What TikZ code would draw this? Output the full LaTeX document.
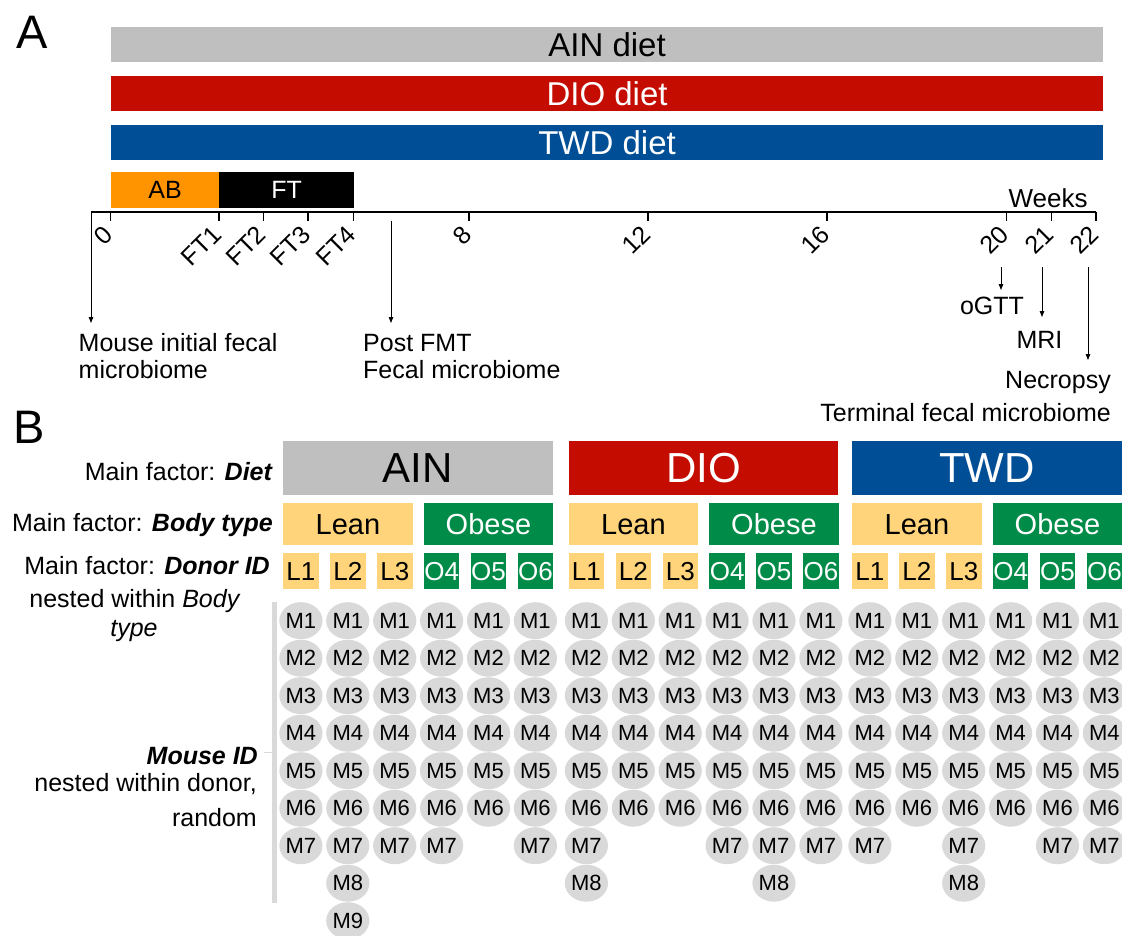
\documentclass[tikz,border=0pt]{standalone}
\usepackage{fontspec}
\setmainfont{Liberation Sans}
\usetikzlibrary{arrows.meta,shapes.geometric}

\definecolor{ainGray}{RGB}{191,191,191}
\definecolor{dioRed}{RGB}{196,12,0}
\definecolor{twdBlue}{RGB}{0,79,150}
\definecolor{abOrange}{RGB}{255,147,0}
\definecolor{leanYellow}{RGB}{255,212,122}
\definecolor{obeseGreen}{RGB}{0,140,72}
\definecolor{mouseGray}{RGB}{217,217,217}

\newcommand{\fsz}[1]{\fontsize{#1}{#1}\selectfont}

\begin{document}
\begin{tikzpicture}[x=1pt,y=-1pt,
  bar/.style={anchor=north west, inner sep=0, minimum width=992.3, minimum height=35, font=\fsz{33}},
  phase/.style={anchor=north west, inner sep=0, minimum height=36, font=\fsz{25}},
  axis/.style={line width=1.3pt, black},
  ticklab/.style={rotate=45, anchor=east, inner sep=0, font=\fsz{25}},
  note/.style={inner sep=0, font=\fsz{25}},
  pointer/.style={line width=0.9pt, -{Triangle[length=6pt,width=4.5pt]}},
  panel/.style={inner sep=0, font=\fsz{47}, anchor=base west},
  dietbox/.style={anchor=north west, inner sep=0, minimum width=269.5, minimum height=54, font=\fsz{42}},
  bodybox/.style={anchor=north west, inner sep=0, minimum width=129.5, minimum height=42, font=\fsz{29}},
  donor/.style={anchor=north west, inner sep=0, minimum width=35.5, minimum height=36, font=\fsz{26}},
  mousedot/.style={ellipse, fill=mouseGray, inner sep=0, minimum width=35, minimum height=37, font=\fsz{22}},
  factor/.style={inner sep=0, font=\fsz{25}}
]
\useasboundingbox (0,0) rectangle (1122,936);

% ---------------- Panel A: timeline ----------------
\node[panel] (labA) at (16,49) {A};

\node[bar, fill=ainGray] (ainbar) at (110.7,27) {AIN diet};
\node[bar, fill=dioRed, text=white] (diobar) at (110.7,76) {DIO diet};
\node[bar, fill=twdBlue, text=white, minimum height=35.3] (twdbar) at (110.7,124.7) {TWD diet};

\node[phase, fill=abOrange, minimum width=108.3] (ab) at (110.7,172) {AB};
\node[phase, fill=black, text=white, minimum width=134.7] (ft) at (219,172) {FT};

% axis with week ticks
\coordinate (axL) at (91,212);
\coordinate (axR) at (1096,212);
\draw[axis] (axL) -- (axR);
\foreach \x/\lab/\nm in {110.7/0/w0, 219/FT1/ft1, 263.7/FT2/ft2, 308/FT3/ft3, 353.7/FT4/ft4,
                         469/8/w8, 648/12/w12, 827/16/w16, 1006.7/20/w20, 1051.5/21/w21, 1096/22/w22} {
  \draw[axis] (\x,212) -- (\x,221.5);
  \node[ticklab] (\nm) at ({\x-2},230) {\lab};
}
\node[note, anchor=base, font=\fsz{26}] (weeks) at (1048,208) {Weeks};

% sampling / measurement events
\coordinate (fmtTop) at (391,221);
\coordinate (mouseEnd) at (91,323);
\coordinate (fmtEnd) at (391,323);
\coordinate (ogttTop) at (1001,267);
\coordinate (ogttEnd) at (1001,290);
\coordinate (mriTop) at (1042,267);
\coordinate (mriEnd) at (1042,317);
\coordinate (necTop) at (1088,267);
\coordinate (necEnd) at (1088,360);

\draw[pointer] (axL) -- (mouseEnd);
\draw[pointer] (fmtTop) -- (fmtEnd);
\draw[pointer] (ogttTop) -- (ogttEnd);
\draw[pointer] (mriTop) -- (mriEnd);
\draw[pointer] (necTop) -- (necEnd);

\node[note, anchor=base west] (initA) at (78.5,351) {Mouse initial fecal};
\node[note, anchor=base west] (initB) at (78.5,378) {microbiome};
\node[note, anchor=base west] (postA) at (363,351) {Post FMT};
\node[note, anchor=base west] (postB) at (363,378) {Fecal microbiome};
\node[note, anchor=base] (ogtt) at (992,314) {oGTT};
\node[note, anchor=base] (mri) at (1039.5,348) {MRI};
\node[note, anchor=base east] (necA) at (1111,388) {Necropsy};
\node[note, anchor=base east] (necB) at (1111,421) {Terminal fecal microbiome};

% ---------------- Panel B: nested design ----------------
\node[panel] (labB) at (13,443) {B};

\node[factor, anchor=base east] (fDiet) at (273,480) {Main factor: \textbf{\textit{Diet}}};
\node[factor, anchor=base east] (fBody) at (273,531) {Main factor: \textbf{\textit{Body type}}};
\node[factor, anchor=base east] (fDonor) at (270,574) {Main factor: \textbf{\textit{Donor ID}}};
\node[factor, anchor=base] (fDonorB) at (135,607) {nested within \textit{Body}};
\node[factor, anchor=base] (fDonorC) at (134,636) {\textit{type}};
\node[factor, anchor=base east] (fMouse) at (258,764) {\textbf{\textit{Mouse ID}}};
\node[factor, anchor=base east] (fMouseB) at (257,791) {nested within donor,};
\node[factor, anchor=base east] (fMouseC) at (257,826) {random};

\node[anchor=north west, fill=mouseGray, inner sep=0, minimum width=4.5, minimum height=301] (mbar) at (272,602) {};
\draw[mouseGray, line width=0.8pt] (fMouse.east |- 0,752) ++(6,0) -- (mbar.west |- 0,752);

\foreach \g/\dname/\dcol/\tcol/\gn in {283/AIN/ainGray/black/ain, 568.5/DIO/dioRed/white/dio, 852/TWD/twdBlue/white/twd} {
  \node[dietbox, fill=\dcol, text=\tcol] (\gn-diet) at (\g,441) {\dname};
  \node[bodybox, fill=leanYellow] (\gn-lean) at (\g,503) {Lean};
  \node[bodybox, fill=obeseGreen, text=white] (\gn-obese) at ({\g+140.5},503) {Obese};
  \foreach \k/\dn in {0/L1,1/L2,2/L3}
    \node[donor, fill=leanYellow] (\gn-\dn) at ({\g+46.9*\k},553) {\dn};
  \foreach \k/\dn in {3/O4,4/O5,5/O6}
    \node[donor, fill=obeseGreen, text=white] (\gn-\dn) at ({\g+46.9*\k},553) {\dn};
}

% mice per donor
\foreach \g/\gn/\ca/\cb/\cc/\cd/\ce/\cf in {283/ain/7/9/7/7/6/7, 568.5/dio/8/6/6/7/8/7, 852/twd/7/6/8/6/7/7} {
  \foreach \k/\n in {0/\ca,1/\cb,2/\cc,3/\cd,4/\ce,5/\cf} {
    \pgfmathtruncatemacro\nn{\n}
    \foreach \m in {1,...,\nn} {
      \node[mousedot] (\gn-\k-\m) at ({\g+17.9+46.9*\k}, {620.7+37.5*(\m-1)}) {M\m};
    }
  }
}
\end{tikzpicture}
\end{document}
